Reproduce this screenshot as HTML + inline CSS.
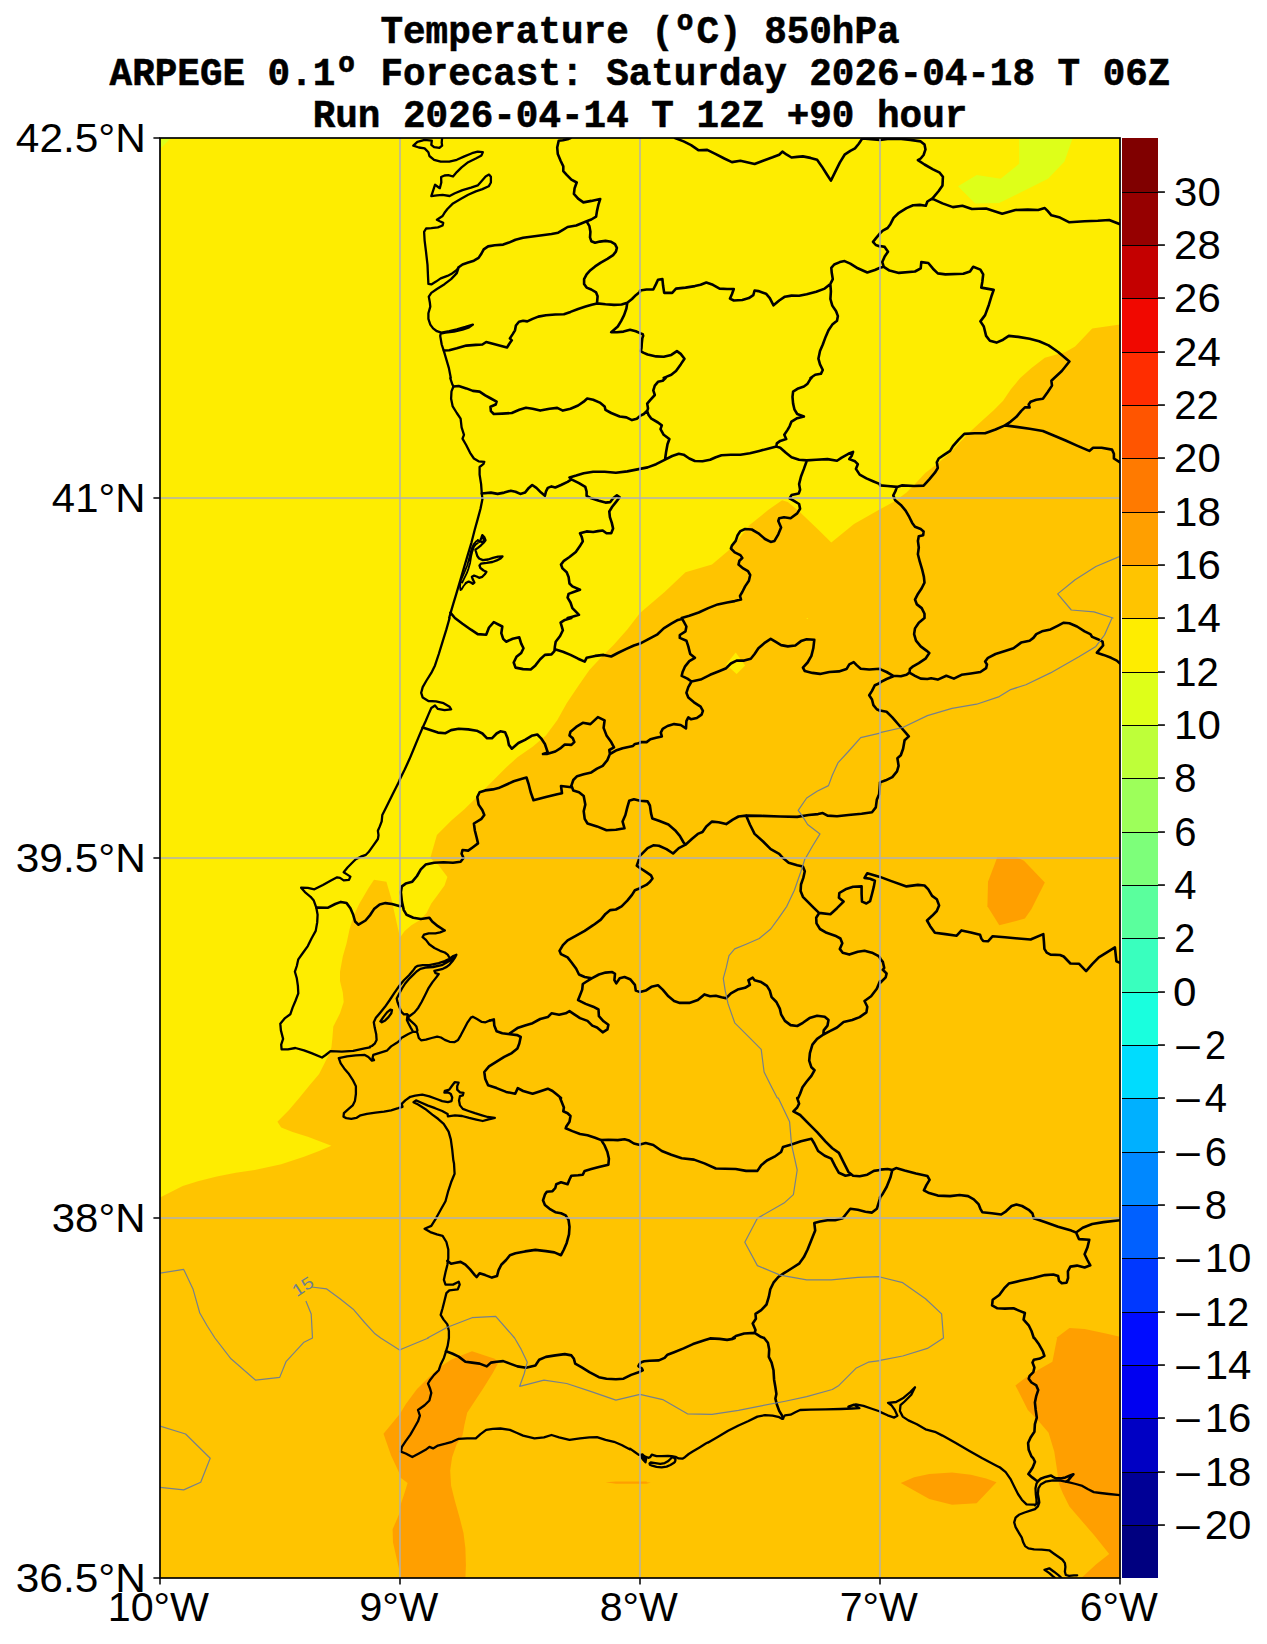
<!DOCTYPE html><html><head><meta charset="utf-8"><title>Temperature 850hPa</title><style>html,body{margin:0;padding:0;background:#fff}body{width:1267px;height:1644px;overflow:hidden;position:relative}svg{position:absolute;left:0;top:0;display:block}text{font-family:"Liberation Sans",sans-serif;fill:#000}.t{font-family:"Liberation Mono",monospace;font-weight:bold;stroke:#000;stroke-width:0.55px}</style></head><body>
<svg width="1267" height="1644" viewBox="0 0 1267 1644">
<defs><clipPath id="c"><rect x="160" y="138" width="960" height="1440"/></clipPath></defs>
<g clip-path="url(#c)">
<rect x="160" y="138" width="960" height="1440" fill="#ffc400"/>
<polygon fill="#feed00" points="160.0,138.0 1120.0,138.0 1120.0,324.6 1092.2,328.4 1075.1,346.4 1065.6,352.0 1044.8,357.7 1031.5,368.1 1020.2,378.0 1010.7,389.4 1003.1,400.7 993.7,410.2 982.3,420.6 970.9,431.0 959.6,442.4 952.0,450.9 936.8,464.2 925.5,472.7 915.0,484.1 906.5,492.6 895.2,501.1 880.0,509.3 854.0,523.9 831.3,542.4 818.1,529.5 798.2,510.6 787.8,502.1 782.1,500.2 768.8,509.6 749.9,524.8 730.9,548.5 712.0,564.6 685.5,572.2 664.6,592.0 640.0,612.9 627.3,629.4 614.0,644.5 600.8,657.8 589.4,670.1 578.1,686.2 566.7,703.2 557.2,720.3 545.9,735.4 532.6,746.8 517.4,757.2 506.1,767.6 490.9,782.8 475.8,798.0 464.4,809.3 451.1,820.7 436.9,834.9 430.3,858.0 438.8,865.6 447.4,876.9 444.5,885.5 436.9,895.9 431.3,903.5 426.5,912.9 420.8,919.6 411.4,925.2 404.7,930.9 400.0,937.6 394.9,914.8 391.1,897.8 386.4,881.7 374.0,879.8 368.4,888.3 358.9,904.4 353.2,916.7 349.4,930.0 346.6,943.2 342.8,956.5 340.0,971.7 340.0,981.1 342.8,992.5 343.7,1002.0 340.0,1013.3 333.3,1026.6 332.4,1038.0 331.4,1047.4 328.6,1055.0 323.9,1064.5 319.1,1073.9 309.6,1085.3 299.2,1098.0 288.8,1110.3 277.4,1121.7 281.2,1127.4 292.6,1132.1 307.8,1136.8 322.9,1142.5 331.4,1145.7 319.1,1151.0 304.0,1156.7 281.2,1164.3 254.7,1170.0 235.8,1172.8 216.8,1176.6 197.9,1181.3 182.7,1186.1 171.4,1191.8 160.0,1197.4"/>
<polygon fill="#feed00" points="735.7,652.5 745.1,665.4 736.6,673.9 726.2,664.4"/>
<polygon fill="#feed00" points="806.8,618.0 807.8,618.0 807.8,619.0 806.8,619.0"/>
<polygon fill="#deff19" points="1019.2,138.0 1019.2,163.7 1000.7,178.7 976.7,175.0 958.0,186.2 975.2,203.5 999.2,203.0 1024.0,190.7 1048.0,178.7 1064.5,161.5 1072.7,138.0"/>
<polygon fill="#deff19" points="160.0,138.0 171.0,138.0 160.0,149.0"/>
<polygon fill="#ff9f00" points="997.4,857.1 988.0,881.7 987.4,906.3 999.3,925.2 1024.9,918.6 1031.5,909.1 1044.8,882.6 1024.0,860.8 1016.4,857.1"/>
<polygon fill="#ff9f00" points="472.0,1351.3 462.5,1355.0 451.1,1359.8 440.7,1366.4 428.4,1377.8 417.0,1389.1 405.7,1404.3 400.0,1413.8 383.5,1433.7 391.1,1455.4 400.0,1474.4 400.0,1477.2 407.6,1482.9 403.8,1495.2 400.0,1506.6 400.0,1512.3 392.6,1529.3 393.0,1542.6 400.0,1572.9 401.0,1578.0 465.4,1578.0 465.9,1565.3 465.4,1548.3 463.5,1533.1 459.7,1518.0 454.9,1500.9 451.1,1485.8 450.2,1470.6 452.1,1457.3 456.8,1444.1 462.5,1435.6 464.4,1425.1 467.2,1412.8 473.9,1402.4 483.3,1388.2 492.8,1373.0 498.5,1362.6 494.7,1358.8 483.3,1355.0"/>
<polygon fill="#ff9f00" points="605.5,1482.3 616.0,1481.4 646.7,1481.4 646.7,1482.2 650.8,1482.5 646.7,1483.7 616.0,1483.7"/>
<polygon fill="#ff9f00" points="900.8,1482.9 914.1,1477.2 929.3,1474.0 952.0,1472.5 970.9,1474.8 986.1,1478.6 996.5,1482.3 986.1,1493.3 976.6,1503.2 952.0,1504.7 929.3,1499.0 914.1,1490.5"/>
<polygon fill="#ff9f00" points="1056.2,1338.0 1069.4,1328.1 1084.6,1329.1 1103.5,1332.9 1120.0,1336.7 1120.0,1578.0 1081.7,1578.0 1082.7,1576.7 1095.9,1564.4 1109.2,1553.9 1094.0,1535.0 1080.8,1519.8 1069.4,1506.6 1062.8,1493.3 1059.0,1483.9 1057.1,1470.6 1054.3,1451.7 1048.6,1432.7 1037.2,1419.5 1027.8,1410.0 1020.2,1394.8 1015.4,1385.4 1027.8,1375.9 1041.0,1368.3 1052.4,1361.7 1055.2,1347.5 1057.1,1338.0"/>
<g fill="none" stroke="#000" stroke-width="2.3" stroke-linejoin="round" stroke-linecap="round">
<path d="M442.1 138.0 L441.7 142.7 L442.1 145.6 L439.4 147.9 L434.1 147.1 L431.3 144.8 L431.8 140.7 L424.6 139.9 L417.4 141.8 L413.3 145.6 L418.9 147.5 L424.6 148.4 L428.4 152.2 L429.4 156.0 L434.1 159.8 L440.7 161.7 L449.3 161.7 L456.8 159.8 L464.4 156.4 L472.0 153.2 L477.7 151.6 L482.8 152.2 L481.5 155.4 L475.8 158.5 L468.2 162.2 L461.6 167.4 L456.8 172.1 L453.0 176.5 L448.3 175.1 L444.5 175.5 L441.1 177.0 L441.3 182.5 L439.8 188.2 L435.0 184.8 L431.3 196.2 L436.9 195.4 L442.6 194.8 L449.6 196.0 L454.9 193.3 L462.5 190.1 L471.0 187.6 L477.7 185.4 L481.5 181.2 L485.6 176.5 L489.0 174.6 L490.9 176.8 L490.9 182.5 L488.7 186.3 L482.4 189.1 L475.8 191.4 L468.2 194.8 L460.6 199.0 L453.0 203.4 L447.4 209.0 L444.5 212.8 L442.6 216.0 L436.9 219.8 L439.8 221.3 L443.2 222.9 L442.6 225.5 L437.9 227.4 L431.3 228.2 L426.1 228.5 L424.1 231.8 L424.6 240.3 L426.0 251.7 L427.5 264.9 L428.0 276.3 L428.4 283.9 L431.3 284.4 L436.0 281.6 L440.7 278.4 L447.4 275.9 L452.1 273.4 L456.8 270.0 L458.7 267.2 M458.3 268.7 L456.8 273.1 L451.1 279.1 L444.5 284.2 L436.9 289.0 L431.3 292.9 L428.8 296.7 L429.9 302.8 L430.3 306.6 L428.4 313.2 L428.4 318.9 L430.3 324.6 L433.1 328.4 L436.9 331.2 L441.3 332.7 L449.3 331.2 L456.8 329.3 L465.4 326.9 L472.9 324.6 L469.1 327.4 L462.5 329.7 L454.0 331.6 L445.5 332.7 L440.7 333.7 L440.2 335.9 L441.7 344.5 L443.9 351.1 L446.4 359.6 L448.9 368.1 L450.8 378.0 M450.2 378.0 L452.1 383.7 L453.4 386.5 L451.5 391.3 L451.1 398.8 L452.7 406.4 L456.8 413.0 L460.6 418.7 L461.6 427.3 L464.0 434.8 L462.5 438.6 L466.3 445.2 L470.1 452.8 L473.9 458.5 L478.6 461.3 L484.3 461.9 L483.3 464.2 L479.6 467.0 L479.6 474.6 L481.1 484.1 L481.8 493.5 L482.4 499.2 L480.5 508.7 L477.7 519.1 L474.8 529.5 L471.4 542.8 L467.4 556.1 L463.5 569.3 L459.9 581.6 L456.3 593.9 L453.4 603.4 L450.6 612.9 L449.1 618.0 M449.6 618.0 L446.4 629.4 L442.6 641.7 L438.8 654.0 L435.0 665.4 L431.3 672.9 L426.5 680.5 L422.7 687.1 L421.2 692.8 L422.7 697.6 L428.4 701.0 L436.0 701.3 L443.6 703.2 L449.6 706.7 L451.1 709.3 L444.5 710.2 L437.9 708.9 L435.0 705.5 L431.3 708.0 L428.4 714.6 L425.6 721.2 L422.7 727.5 L418.9 736.4 L414.2 747.8 L409.5 759.1 L404.7 769.5 L400.0 779.0 L399.3 780.9 M355.8 859.2 L353.2 861.8 L347.5 867.5 L343.7 872.2 L346.6 874.1 L350.4 876.6 L349.0 879.8 L343.7 880.4 L340.0 877.9 L337.1 877.3 L330.5 880.7 L322.9 884.9 L314.4 889.3 L307.8 887.9 L301.1 887.7 L304.9 892.1 L310.6 896.8 L313.8 900.6 L316.3 907.6 L317.6 914.8 L317.2 922.4 L315.7 930.9 L311.5 938.5 L307.8 946.1 L303.0 952.7 L298.3 959.3 L296.8 966.0 L294.9 971.7 L296.8 978.3 L297.9 985.9 L298.3 993.4 L295.4 1001.0 L292.6 1007.6 L290.3 1014.3 L285.0 1018.1 L280.3 1023.7 L280.9 1030.4 L283.1 1038.9 L281.2 1044.6 L281.6 1049.3 L287.9 1049.3 L295.4 1048.0 L304.0 1050.3 L311.5 1053.1 L322.0 1057.5 L325.7 1055.0 L330.5 1051.2 L341.8 1051.6 L353.2 1050.8 L364.6 1048.4 L369.9 1047.4 M453.3 1160.0 L454.0 1163.4 L454.6 1173.8 L451.1 1182.3 L448.3 1190.8 L445.5 1201.2 L440.7 1209.8 L436.0 1218.3 L431.3 1225.9 L424.6 1228.7 L430.3 1232.1 L436.9 1234.4 L442.6 1235.9 L446.4 1242.0 L448.3 1249.5 L448.3 1258.1 L447.4 1264.7 L445.5 1272.3 L443.9 1279.8 L445.5 1284.6 L453.0 1284.6 L458.7 1281.7 L459.7 1284.6 L457.8 1289.3 L449.3 1290.3 L446.4 1293.1 L444.5 1300.7 L442.6 1308.3 L440.7 1314.9 L443.6 1319.6 L447.4 1324.4 L448.9 1331.0 L448.9 1338.0 M448.9 1338.0 L447.7 1345.6 L446.0 1351.3 L443.9 1357.9 L440.7 1364.5 L438.8 1370.2 L434.1 1374.9 L430.3 1379.7 L428.0 1383.5 L429.9 1388.2 L431.3 1392.9 L429.4 1400.5 L424.6 1405.2 L418.0 1410.0 L419.9 1415.7 L418.0 1421.3 L414.2 1428.0 L410.4 1434.6 L405.7 1441.2 L401.9 1446.9 L400.9 1451.7 L405.7 1453.5 L412.3 1457.0 L418.9 1453.5 L425.6 1449.8 L429.4 1446.9 L433.1 1448.4 L437.9 1445.6 L445.5 1443.7 L452.1 1441.8 L458.7 1438.8 L467.2 1438.4 L475.8 1438.4 L480.5 1434.2 L486.2 1429.9 L492.8 1428.9 L500.4 1428.5 L509.9 1429.9 L516.5 1432.7 L523.1 1435.6 L534.5 1438.4 L544.0 1437.4 L551.5 1435.0 L559.1 1437.4 L569.5 1439.9 L580.0 1438.4 L589.4 1437.4 L597.0 1437.1 L605.5 1439.9 L614.0 1441.8 L621.6 1445.0 L630.1 1449.4 M708.2 1442.6 L717.7 1437.1 L728.1 1430.8 L738.5 1425.5 L748.0 1421.3 L757.4 1416.6 L765.0 1415.1 L772.6 1415.7 L779.2 1417.2 L782.4 1418.9 L784.9 1415.3 L790.6 1414.7 L795.3 1412.3 L800.1 1410.0 L810.5 1409.6 L825.6 1409.4 L840.8 1409.0 L852.2 1408.5 L859.4 1408.1 L854.0 1404.7 L848.4 1406.6 L855.9 1404.3 L863.5 1405.8 L871.1 1408.5 L880.0 1411.5 M880.0 1411.9 L887.6 1415.3 L894.2 1417.6 L897.4 1415.7 L894.8 1410.0 L891.4 1405.2 L888.0 1402.8 L896.1 1402.0 L903.7 1397.7 L910.3 1392.0 L915.0 1387.3 L911.3 1394.8 L904.6 1401.5 L900.5 1405.2 L899.9 1410.9 L902.7 1416.6 L908.4 1420.4 L916.9 1424.2 L925.5 1429.3 L934.9 1431.8 L942.5 1435.6 L955.8 1443.1 L969.0 1450.7 L982.3 1458.3 L995.5 1465.3 L999.9 1467.6 M444.8 930.5 L440.1 932.4 L435.4 933.3 L428.7 933.3 L424.0 934.7 L422.6 937.1 L425.9 939.9 L429.2 944.2 L434.4 948.0 L440.1 950.8 L444.8 952.5 L447.7 954.6 L449.1 957.0 L450.0 958.4 M450.0 958.4 L453.3 956.0 L456.4 954.8 L454.8 957.9 L452.4 961.3 L449.6 964.6 L446.7 966.9 L442.9 968.8 L438.7 969.8 L434.4 970.9 L435.4 973.1 L438.7 974.0 L436.3 977.4 L432.5 982.1 L428.7 987.8 L424.9 995.4 L421.6 1002.0 L418.3 1007.7 L414.5 1012.4 L410.7 1015.2 L409.3 1016.2 M450.0 958.4 L444.8 961.1 L438.7 963.2 L429.2 965.1 L422.8 965.1 L417.8 965.8 L415.3 967.3 L412.8 970.8 L409.0 975.3 L403.9 980.3 L399.6 985.4 L394.4 992.9 L389.4 1000.5 L385.0 1006.8 L380.4 1012.4 L375.7 1018.1 L373.8 1022.3 L374.7 1027.6 L376.2 1034.2 L376.6 1039.9 L374.7 1043.7 L371.9 1046.0 L370.0 1046.7 M454.8 956.5 L450.5 960.3 L445.8 963.1 L441.8 965.2 L433.0 967.0 L425.4 967.7 L420.4 968.9 L416.6 971.5 L413.4 974.6 L409.0 979.0 L405.2 983.5 L402.0 988.5 L398.9 994.2 L396.7 998.6 L397.6 1002.4 L399.5 1007.4 L401.4 1011.9 L403.9 1014.4 L407.1 1014.1 L408.7 1015.7 L408.4 1018.6 L410.7 1020.9 L414.0 1023.8 L416.4 1026.6 L417.4 1030.4 L416.9 1031.8 M407.4 1016.2 L406.9 1020.0 L408.4 1023.3 L410.7 1027.6 L413.1 1031.8 M413.1 1031.8 L407.9 1034.2 L401.3 1038.0 M413.1 1031.8 L416.9 1031.8 L417.8 1034.2 L418.8 1038.0 L421.1 1040.3 L425.9 1039.7 L431.6 1038.0 L437.2 1036.6 L441.0 1037.5 L444.8 1039.9 L449.6 1041.8 L454.3 1042.2 L458.1 1039.9 L460.9 1035.1 L463.8 1029.4 L467.6 1022.3 L470.9 1017.6 L472.8 1016.7 L477.0 1019.0 L481.8 1021.9 L485.5 1022.3 L490.0 1020.4 M380.4 1021.4 L383.3 1017.1 L387.0 1012.4 L390.4 1009.6 L392.0 1010.0 L391.3 1013.3 L388.5 1017.1 L385.2 1020.4 L381.8 1022.3 L380.4 1021.4 M401.3 1038.0 L399.6 1040.7 L396.8 1042.8 L391.1 1046.4 L386.8 1050.7 L379.7 1052.8 L373.3 1054.9 L372.6 1057.8 L374.0 1060.2 L371.9 1060.6 L368.4 1057.0 L364.8 1054.9 L355.6 1055.3 L347.0 1056.3 L338.8 1058.2 L340.7 1063.4 L344.2 1068.4 L348.5 1073.4 L352.7 1079.8 L355.9 1086.2 L355.9 1094.0 L354.9 1101.1 L352.7 1105.4 L347.8 1109.6 L343.9 1113.2 L343.5 1116.7 L346.3 1118.1 L351.3 1118.8 L356.3 1117.9 L360.5 1115.3 L366.9 1113.9 L375.5 1112.7 L384.0 1111.7 L391.1 1110.3 L398.2 1108.2 L402.5 1106.8 L401.7 1103.9 L405.3 1100.4 L410.3 1096.8 L415.2 1095.7 L422.3 1094.7 L429.4 1096.4 L436.6 1099.0 L442.2 1101.1 L447.9 1102.2 L451.5 1101.1 L452.2 1097.5 L450.8 1094.0 L447.9 1092.3 L444.4 1092.6 L444.8 1090.9 L449.3 1089.7 L452.2 1085.5 L454.7 1082.2 L458.6 1082.6 L457.2 1086.2 L457.2 1089.7 L460.0 1092.3 L463.5 1092.8 L462.8 1095.4 L460.0 1096.1 L459.0 1100.4 L460.0 1105.4 L462.8 1108.9 L468.5 1111.0 L474.9 1113.2 L482.0 1115.3 L487.7 1117.0 L494.8 1117.9 L487.7 1119.6 L482.7 1121.0 L476.3 1119.6 L469.2 1117.9 L462.1 1116.0 L455.0 1115.3 L447.9 1116.4 L447.6 1113.9 L442.2 1111.0 L435.1 1108.2 L428.0 1105.6 L420.9 1102.5 L416.0 1100.4 L413.5 1102.2 L418.1 1104.6 L425.2 1108.9 L432.3 1114.6 L438.0 1118.8 L443.7 1123.8 L448.6 1131.6 L450.8 1139.4 L452.2 1149.4 L453.3 1160.0 M399.3 780.9 L392.4 794.8 L386.1 807.5 L382.3 815.0 L381.7 821.3 L379.8 826.4 L377.9 830.8 L378.5 835.2 L377.9 839.0 L373.4 845.3 L368.4 852.3 L365.9 854.8 L360.8 856.7 L355.8 859.2 M477.9 540.3 L479.5 541.8 L480.4 540.2 L481.4 537.7 L482.3 535.2 L484.2 537.0 L485.5 540.2 L483.6 542.7 L481.0 545.3 L477.9 547.8 L475.4 549.7 L476.3 552.8 L477.3 556.0 L479.1 558.5 L482.9 560.1 L488.0 559.5 L493.0 557.9 L498.1 556.6 L502.5 556.5 L500.6 558.5 L496.8 560.4 L492.4 562.0 L486.7 562.9 L481.0 563.6 L479.5 565.5 L480.4 568.0 L483.6 570.5 L486.4 571.8 L484.8 574.3 L482.3 576.8 L479.1 577.8 L476.6 576.5 L474.1 575.6 L471.9 576.8 L472.8 579.4 L474.4 582.5 L472.8 583.8 L470.9 582.5 L468.7 581.6 L465.9 583.1 M482.0 536.4 L483.6 538.9 L484.2 540.8 L482.3 542.1 L480.4 541.5 M1120.0 1495.1 L1108.9 1494.0 L1100.4 1493.0 L1093.8 1492.1 L1088.1 1489.3 L1082.4 1485.9 L1075.8 1484.0 L1068.2 1482.2 L1060.6 1480.7 L1053.0 1480.3 L1045.5 1481.7 L1040.7 1484.5 L1038.4 1488.3 L1037.9 1494.0 L1038.8 1498.7 L1039.3 1502.5 L1037.9 1506.3 L1035.0 1509.1 L1030.3 1510.6 L1024.6 1512.5 L1018.9 1514.8 L1015.6 1517.7 L1014.2 1522.4 L1015.6 1527.1 L1018.9 1532.8 L1021.8 1537.6 L1023.2 1542.3 L1025.1 1546.1 L1028.4 1548.4 L1034.1 1549.4 L1041.7 1549.7 L1049.3 1550.3 L1054.0 1553.7 L1058.7 1557.0 L1062.5 1559.8 L1064.9 1563.1 L1065.4 1566.9 L1064.9 1571.7 L1065.8 1575.0 L1069.1 1575.9 L1073.9 1575.3 L1077.2 1575.3 M1037.9 1481.2 L1036.5 1483.6 L1035.5 1488.3 L1035.8 1494.0 L1036.5 1499.7 L1036.5 1503.5 L1035.0 1505.4 M1000.0 1467.5 L1005.7 1472.2 L1010.4 1478.8 L1014.2 1486.4 L1018.0 1494.0 L1021.8 1499.7 L1026.5 1504.4 L1032.2 1504.6 L1036.0 1504.4 L1037.4 1502.5 M1061.6 1578.0 L1058.7 1575.4 L1054.0 1571.7 L1049.3 1568.3 L1044.5 1569.8 L1049.3 1573.1 L1053.0 1576.4 L1054.9 1578.0 M630.0 1448.6 L634.4 1451.8 L638.8 1454.9 L641.7 1454.6 L645.2 1456.5 L648.3 1457.8 L650.2 1457.2 L651.8 1454.6 L654.0 1455.3 L656.5 1456.2 L661.6 1456.2 L667.9 1456.0 L671.7 1456.2 L675.5 1456.8 L678.6 1458.4 L682.4 1458.7 L684.9 1457.2 L688.7 1454.0 L693.1 1451.2 L699.5 1447.4 L705.8 1443.6 L708.3 1442.3 M649.6 1463.5 L650.8 1462.5 L655.3 1463.1 L660.3 1463.8 L664.7 1463.1 L667.9 1461.3 L670.4 1459.0 L672.3 1457.2 L674.2 1457.8 L675.5 1459.7 L675.1 1461.6 L673.6 1463.1 L670.4 1465.0 L666.6 1466.6 L661.6 1467.3 L656.5 1466.9 L652.1 1465.7 L649.9 1464.7 L649.6 1463.5 M641.0 1454.8 L642.6 1454.5 L644.8 1457.2 L646.1 1458.7 L645.5 1462.3 L643.6 1460.3 L642.0 1458.1 L641.0 1454.8 L644.2 1458.4 L645.2 1460.9"/>
</g>
<g fill="none" stroke="#000" stroke-width="1.8" stroke-linejoin="round" stroke-linecap="round">
<path d="M460.5 590.1 L460.0 586.3 L460.7 580.6 L462.4 576.8 L464.6 571.8 L467.2 565.5 L469.0 559.1 L470.5 552.8 L472.0 547.8 L473.8 544.0 L475.9 541.6 L477.9 540.3 M465.9 583.1 L463.4 586.3 L461.5 589.5 L460.5 590.1 M462.2 582.5 L464.1 578.7 L466.6 573.7 L468.5 568.6 L470.1 562.9 L471.1 556.6 L472.3 551.6 L474.0 546.8 L475.7 544.6 L477.9 543.0"/>
</g>
<g fill="none" stroke="#000" stroke-width="2.6" stroke-linejoin="round" stroke-linecap="round">
<path d="M458.7 267.2 L462.5 264.5 L468.2 262.6 L473.9 260.7 L478.6 257.9 L481.5 253.5 L483.7 249.4 L488.1 246.4 L494.7 245.2 L503.2 244.6 L508.9 242.6 L515.5 239.7 L523.1 237.8 L532.6 236.5 L542.1 235.2 L551.5 234.0 L558.2 232.7 L562.9 229.9 L567.6 227.0 L576.2 225.5 L581.8 223.2 L586.6 221.3 L591.3 219.5 L596.1 216.6 L597.0 210.9 L598.5 204.3 L600.2 199.0 M600.2 199.0 L591.3 200.9 L583.4 202.4 L578.1 198.6 L573.9 193.9 L574.6 188.2 L576.7 182.5 L571.4 179.7 L566.7 174.9 L563.3 171.1 L563.3 166.4 L560.6 160.7 L557.8 154.1 L557.2 147.5 L558.7 140.8 L562.9 140.3 L568.6 138.9 L570.5 138.0 M443.9 350.5 L449.3 350.2 L456.8 348.3 L466.3 345.6 L475.8 344.9 L482.4 344.5 L486.2 342.0 L491.9 343.5 L499.4 345.4 L507.0 347.5 L509.5 343.5 L511.8 340.3 L509.9 338.4 L512.7 334.1 L515.0 330.3 L515.9 325.5 L519.0 321.7 L523.1 320.8 L527.3 321.4 L532.6 318.9 L538.3 316.6 L545.9 315.3 L555.3 314.5 L563.9 314.2 L570.5 311.9 L578.1 309.0 L585.6 306.6 L591.7 304.7 L597.0 303.4 L605.5 304.3 L614.0 304.9 L621.6 304.5 L627.3 302.8 L632.0 299.0 L635.8 295.2 L640.0 291.8 M597.0 303.4 L597.6 296.2 L596.1 292.4 L591.3 289.5 L586.6 287.6 L584.1 283.9 L584.1 279.1 L586.6 274.4 L590.4 270.2 L595.1 266.4 L600.8 262.6 L607.4 258.9 L613.1 255.1 L615.9 251.7 L616.9 247.9 L615.0 244.1 L611.2 241.8 L605.5 240.9 L599.8 241.6 L595.1 242.8 L591.3 241.2 L590.0 237.4 L590.4 231.8 L589.4 226.1 L586.6 221.3 M627.3 302.8 L626.4 308.5 L624.1 315.1 L621.2 320.8 L617.8 326.5 L611.2 332.2 L616.9 332.2 L623.5 331.6 L630.1 329.7 L635.8 331.2 L640.0 333.1 M675.0 138.0 L683.6 141.4 L691.1 145.2 L698.7 150.3 L707.2 149.9 L715.8 154.1 L724.3 158.5 L731.9 162.1 L740.4 160.7 L747.0 162.2 L754.6 164.0 L763.1 160.7 L772.6 157.3 L779.2 154.7 L782.4 151.6 L786.8 154.7 L791.5 157.5 L797.2 156.9 L802.9 156.4 L810.5 157.9 L817.1 159.8 L821.8 166.4 L826.6 174.0 L830.9 180.6 L835.1 172.1 L839.8 162.6 L844.6 154.7 L850.3 150.9 L855.0 148.4 L858.8 143.7 L862.6 138.0 M640.0 290.5 L646.6 289.5 L653.3 289.5 L656.1 283.9 L658.0 279.7 L662.4 279.1 L663.1 285.8 L664.2 292.9 L672.2 292.9 L676.0 288.6 L685.5 287.6 L694.9 286.1 L700.6 284.8 L706.3 282.5 L712.9 284.8 L719.6 288.6 L727.1 289.0 L733.8 289.0 L731.9 294.3 L730.0 298.6 L733.8 300.5 L742.3 300.0 L748.9 298.1 L753.3 295.2 L754.6 290.5 L758.4 291.1 L766.0 293.7 L769.8 298.1 L773.5 305.3 L779.2 300.5 L784.9 296.7 L791.5 295.6 L799.1 295.8 L806.7 294.3 L816.2 291.8 L824.7 288.6 L830.4 283.9 L832.8 279.1 L831.7 272.5 L831.3 267.8 L834.2 264.5 L839.8 262.1 L844.6 261.1 L850.3 263.6 L857.8 268.3 L867.3 272.5 L874.9 270.0 L880.0 267.8 M830.4 284.8 L830.9 291.4 L830.4 299.0 L832.3 305.6 L836.1 311.3 L837.9 316.1 L837.0 320.8 L832.3 324.6 L828.5 330.3 L825.6 336.9 L822.8 344.5 L820.0 351.1 L818.4 358.7 L820.0 364.4 L822.8 370.0 L820.9 373.8 L815.2 374.8 L810.5 378.0 M880.0 233.3 L875.8 238.4 L873.0 241.8 L875.8 245.0 L880.0 246.4 M862.6 138.4 L871.1 139.1 L880.0 139.9 M640.0 333.1 L642.7 334.2 L643.2 335.8 L642.3 338.4 L641.8 343.1 L641.5 347.9 L640.9 351.1 L643.2 352.6 L647.6 354.5 L656.1 356.4 L663.7 356.8 L671.3 354.9 L676.9 351.1 L680.7 353.9 L684.5 358.7 L680.7 364.4 L676.0 371.0 L671.3 374.8 L665.6 377.1 L663.7 378.0 M880.0 139.9 L887.6 138.9 L898.9 138.6 L910.3 139.9 L920.7 141.4 L924.5 144.6 L925.5 149.4 L923.6 155.0 L920.7 158.5 L917.9 160.2 L924.5 164.5 L933.0 169.3 L939.7 172.7 L942.9 176.8 L942.5 185.4 L938.7 191.0 L934.0 196.7 L932.1 198.6 M932.1 198.6 L927.4 201.5 L925.8 205.8 L919.8 204.9 L913.1 205.2 L906.5 208.1 L898.9 212.8 L893.6 217.9 L890.4 224.2 L887.6 228.0 L882.8 230.6 L880.0 233.3 M932.1 198.6 L942.5 203.4 L952.9 207.1 L962.4 205.8 L971.9 209.0 L986.1 208.5 L993.7 210.9 L1002.2 213.8 L1015.4 210.0 L1027.8 209.6 L1038.2 210.0 L1044.8 208.1 L1047.6 210.9 L1051.4 215.3 L1060.0 217.6 L1069.4 222.3 L1084.6 221.3 L1097.8 220.8 L1109.2 220.0 L1120.0 224.2 M880.0 246.0 L884.7 246.9 L888.0 251.7 L884.7 256.4 L882.3 262.1 L883.8 266.8 L889.5 270.6 L898.9 272.9 L915.0 271.5 L920.7 268.3 L921.3 262.1 L928.3 263.0 L933.0 268.7 L937.8 273.4 L945.4 274.4 L963.3 273.8 L970.0 271.5 L973.2 266.8 L980.4 269.6 L983.2 274.4 L982.3 282.0 L981.3 287.6 L993.7 289.9 L991.8 295.2 L988.9 304.7 L985.1 315.1 L980.4 321.4 L983.8 326.5 L986.1 335.9 L989.9 340.7 L996.5 342.6 L1003.1 339.7 L1008.8 335.9 L1018.3 336.9 L1029.6 338.8 L1039.1 341.3 L1048.6 345.4 L1058.1 352.0 L1069.4 361.5 L1061.8 371.0 L1054.3 378.0 M880.0 267.8 L883.8 266.8 M453.4 386.5 L458.7 386.0 L466.3 388.4 L472.9 390.9 L479.6 391.6 L485.2 395.4 L490.9 398.5 L496.6 401.7 L495.7 404.5 L490.5 406.8 L490.9 411.1 L493.8 414.0 L502.3 413.6 L511.8 413.0 L519.3 409.8 L526.0 407.7 L532.6 408.7 L540.2 410.6 L549.6 408.7 L557.2 407.9 L562.9 410.6 L570.5 408.7 L578.1 405.5 L583.7 401.7 L587.2 398.5 L593.2 399.8 L599.8 402.6 L604.6 406.4 L605.5 409.8 L611.2 413.0 L619.7 416.5 L626.4 417.4 L632.0 420.1 L636.8 418.7 L640.0 415.9 M481.8 493.5 L490.9 492.6 L497.6 493.9 L504.2 492.6 L510.8 490.7 L515.5 491.7 L520.3 493.9 L525.0 492.6 L528.8 487.9 L532.2 485.0 L536.4 487.9 L541.1 492.6 L544.9 495.8 L545.9 491.7 L547.8 487.9 L551.5 486.4 L555.3 487.5 L561.0 485.0 L567.6 481.8 L571.4 479.3 L569.5 477.4 L576.2 475.6 L583.7 473.3 L593.2 471.8 L604.6 471.8 L615.9 472.7 L627.3 471.4 L640.0 468.9 M571.4 479.3 L579.0 483.1 L585.3 486.9 L586.6 491.7 L586.6 495.8 L591.3 498.3 L598.9 500.7 L605.5 502.6 L610.3 502.1 L613.1 498.3 L616.9 495.4 L619.7 497.3 L615.9 502.1 L612.2 506.8 L609.3 511.5 L609.9 517.2 L611.8 522.9 L613.1 528.6 L611.2 533.3 L606.5 533.3 L602.7 530.5 L597.9 531.1 L593.2 532.0 L586.6 531.4 L580.0 533.3 L581.8 537.1 L582.8 541.3 L579.6 546.6 L575.8 551.9 L569.5 557.0 L563.9 560.8 L561.0 564.6 L562.5 568.4 L566.7 572.2 L568.6 576.9 L569.5 583.5 L572.4 586.4 L580.0 589.8 L574.3 591.7 L568.6 593.9 L567.6 597.7 L570.5 602.5 L572.4 608.1 L577.1 612.9 L579.0 614.8 L572.4 616.7 L567.6 618.0 M665.6 378.0 L662.7 380.8 L658.0 381.8 L654.8 385.6 L653.3 390.3 L654.8 395.0 L650.4 399.8 L647.2 403.6 L648.0 408.3 L647.2 411.1 L648.5 414.9 L651.4 418.7 L658.0 422.5 L661.8 425.4 L660.5 429.1 L663.7 434.8 L669.4 439.0 L667.5 444.3 L666.1 451.9 L665.0 459.8 M640.0 415.9 L643.8 414.0 L647.2 410.6 M640.0 468.9 L647.6 467.4 L656.1 464.2 L664.6 459.8 L672.2 456.0 L678.8 453.8 L683.6 454.7 L689.3 458.5 L694.9 461.0 L702.5 461.3 L710.1 459.8 L715.8 457.2 L721.5 455.3 L730.9 454.7 L740.4 454.7 L749.9 453.2 L759.3 450.9 L768.8 448.5 L776.4 446.6 L780.2 447.7 L785.9 452.8 L791.5 457.2 L799.1 459.8 L806.7 460.4 L816.2 459.8 L827.5 459.1 L837.0 460.8 L841.7 457.6 L848.4 453.8 L853.1 451.9 L851.8 455.7 L849.3 459.1 L855.0 461.3 L857.8 464.2 L855.9 468.9 L859.7 474.6 L866.4 478.4 L873.0 481.2 L880.0 484.1 M776.4 446.6 L776.8 443.4 L780.2 440.9 L786.2 439.0 L784.3 434.8 L787.4 430.1 L789.6 426.3 L791.5 421.6 L797.2 418.2 L803.9 416.5 L797.2 414.0 L794.4 409.3 L793.1 403.6 L792.5 396.9 L793.1 391.6 L798.2 388.4 L803.9 386.5 L807.6 383.7 L810.5 378.9 L811.4 378.0 M806.7 461.0 L803.9 468.9 L801.0 476.5 L799.1 484.1 L800.1 489.8 L798.7 493.5 L791.5 495.1 L789.6 498.3 L794.4 501.1 L799.1 504.0 L800.1 508.7 L797.2 513.4 L790.6 518.2 L784.0 517.2 L779.2 518.2 L778.3 521.0 L781.1 527.6 L778.3 534.3 L774.5 540.9 L770.7 541.9 L765.0 539.0 L758.4 533.3 L751.8 529.5 L745.1 529.0 L740.4 531.1 L737.6 535.2 L735.7 540.9 L731.9 545.6 L730.9 548.5 L734.7 552.3 L740.4 555.1 L742.3 558.0 L739.4 560.8 L738.5 564.6 L743.2 568.4 L748.0 571.2 L750.2 575.0 L748.9 580.7 L745.1 586.4 L742.3 592.0 L740.0 595.8 L741.0 599.6 L734.7 601.1 L727.1 602.5 L717.7 604.4 L708.2 608.1 L698.7 612.5 L689.3 615.7 L681.7 618.0 M1054.3 378.0 L1051.4 380.8 L1052.0 385.6 L1047.6 392.2 L1042.9 398.8 L1036.3 399.8 L1030.6 401.7 L1028.7 404.5 L1029.6 407.4 L1024.9 407.4 L1021.1 411.1 L1016.4 416.8 L1010.7 421.6 L1005.0 425.4 L995.5 429.5 L985.1 433.3 L974.7 433.3 L964.3 433.9 L958.6 439.6 L952.9 446.2 L950.1 450.9 L944.4 454.7 L938.7 458.5 L936.8 462.3 L937.8 468.0 L934.9 472.7 L929.3 479.3 L923.6 485.6 L914.1 486.0 L901.8 485.4 L897.0 486.9 L887.6 486.0 L880.0 485.4 M1005.0 425.4 L1016.4 426.9 L1029.6 428.8 L1042.9 431.0 L1054.3 435.8 L1065.6 440.5 L1077.0 445.6 L1089.3 450.9 L1093.1 447.7 L1101.6 447.7 L1112.0 449.6 L1113.9 453.8 L1113.9 458.5 L1120.0 462.3 M897.0 486.9 L895.2 491.7 L893.3 495.4 L895.2 500.2 L900.8 504.9 L905.6 510.6 L909.4 517.2 L912.2 522.9 L915.0 526.7 L920.7 529.0 L923.6 531.4 L923.2 535.2 L918.8 536.2 L917.9 540.9 L918.8 547.5 L917.9 554.2 L919.8 561.7 L922.1 569.3 L923.9 576.9 L924.5 582.6 L921.7 588.3 L917.9 593.9 L915.0 599.6 L916.9 604.4 L921.7 608.1 L924.5 613.8 L924.5 618.0 M450.4 612.7 L454.9 618.0 L462.5 623.7 L471.0 629.7 L477.7 634.1 L486.2 634.7 L489.0 627.5 L493.8 622.2 L502.3 626.5 L501.3 633.2 L503.2 638.8 L506.1 641.7 L512.7 638.8 L519.3 637.3 L521.2 643.6 L523.5 648.3 L521.2 653.0 L516.5 656.8 L513.7 662.5 L515.5 667.6 L523.1 669.1 L530.7 669.5 L535.4 665.4 L540.2 659.3 L544.9 654.9 L551.5 654.4 L554.4 651.1 L554.9 646.4 L555.7 641.7 L560.1 636.0 L562.9 630.3 L560.6 622.7 L564.8 619.9 L571.4 618.0 M554.9 649.3 L562.9 651.7 L570.5 654.9 L578.1 658.7 L584.7 661.6 L586.6 657.8 L595.1 655.9 L603.6 654.9 L611.2 656.5 L617.8 653.0 L626.4 648.9 L633.9 645.5 L640.0 643.6 M422.7 727.5 L430.3 730.1 L437.9 732.6 L445.5 733.2 L451.1 730.1 L458.7 728.8 L468.2 729.4 L476.7 730.7 L482.4 733.5 L487.1 738.3 L491.9 738.3 L496.6 733.5 L500.4 731.3 L505.1 732.2 L507.6 738.3 L508.9 744.9 L511.8 748.7 L518.4 743.0 L525.0 739.8 L531.6 735.8 L537.3 734.5 L541.1 738.3 L544.9 744.0 L547.8 752.5 L543.0 754.0 L546.8 754.0 L555.3 751.5 L561.0 747.8 L564.8 744.5 L571.4 744.9 L574.3 742.1 L572.8 738.3 L569.5 735.4 L570.5 731.7 L576.2 726.9 L582.8 722.8 L590.4 724.1 L597.9 717.1 L604.6 720.3 L603.6 727.9 L606.5 735.4 L611.2 742.1 L614.0 747.4 L609.3 750.0 L609.9 754.0 M609.9 754.0 L615.9 750.6 L622.6 748.3 L633.0 745.9 L634.9 744.0 L640.0 743.0 M609.9 754.0 L607.4 760.1 L602.7 765.8 L597.0 768.6 L591.3 772.4 L583.7 774.3 L577.1 776.2 L573.3 780.0 L571.4 785.6 L573.3 790.4 L579.0 792.3 L583.7 796.1 L585.3 804.6 L583.7 811.2 L584.7 818.8 L587.5 823.5 L597.0 826.4 L606.5 830.2 L615.9 829.8 L624.5 828.3 L622.6 821.6 L625.4 815.0 L627.3 807.4 L629.2 800.8 L633.9 799.3 L640.0 800.8 M571.4 787.2 L561.0 786.0 L562.0 793.2 L557.2 794.2 L545.9 797.0 L533.5 800.2 L530.7 792.3 L528.8 784.7 L526.5 777.5 L521.2 779.0 L513.7 781.3 L506.1 784.7 L498.5 788.1 L492.8 789.4 L485.2 790.4 L479.6 792.3 L477.3 797.0 L478.6 804.6 L482.4 810.3 L484.3 815.0 L481.5 818.8 L473.9 823.5 L474.8 830.2 L476.7 837.7 L478.0 843.4 L472.9 847.2 L468.2 850.6 L462.5 850.0 L461.6 853.8 L463.5 858.0 M640.0 643.6 L648.5 639.2 L657.0 634.7 L663.7 628.4 L671.3 623.7 L677.9 619.9 L681.7 618.9 M681.7 618.0 L683.9 621.8 L686.4 626.5 L685.5 631.3 L679.8 635.0 L679.8 637.9 L686.4 640.7 L688.3 646.4 L690.2 654.0 L694.9 657.8 L689.3 661.2 L685.1 666.3 L682.6 672.0 L681.7 675.8 L687.4 678.6 L691.5 681.5 M691.5 681.5 L700.6 679.6 L710.1 674.8 L719.6 671.0 L726.2 668.2 L730.9 663.5 L736.6 660.6 L744.2 660.6 L750.8 658.7 L754.6 654.0 L758.4 648.3 L765.0 642.6 L770.7 638.8 L775.4 641.7 L781.1 645.1 L787.8 646.4 L795.3 645.5 L801.0 641.1 L806.7 639.2 L814.3 639.8 L813.3 648.3 L811.4 655.9 L807.6 662.5 L802.9 667.6 L804.8 671.0 L812.4 672.9 L820.0 673.9 L829.4 672.0 L838.9 671.4 L846.5 669.1 L849.3 664.4 L853.7 662.1 L856.9 665.4 L860.7 668.8 L869.2 669.5 L880.0 668.8 M691.5 681.5 L688.3 687.1 L686.4 692.8 L688.3 697.6 L694.0 702.3 L700.6 706.7 L702.9 710.8 L701.6 714.6 L696.8 718.0 L691.1 719.3 L688.3 717.4 L686.4 721.2 L686.0 728.4 L680.7 725.0 L674.1 724.1 L667.5 726.0 L662.7 728.8 L660.8 732.6 L661.8 736.4 L656.1 737.7 L650.4 739.2 L646.6 742.1 L640.0 742.1 M880.0 683.0 L874.9 685.2 L872.0 690.9 L869.2 695.3 L872.0 699.5 L873.4 705.1 L876.8 709.3 L880.0 710.8 M640.0 800.8 L647.6 801.4 L649.9 805.5 L651.0 813.1 L652.3 818.4 L658.9 820.7 L668.4 824.5 L675.0 830.2 L679.8 835.8 L683.6 842.5 L685.5 844.7 M685.5 844.7 L678.8 848.1 L673.1 853.5 L666.5 849.1 L658.9 845.7 L653.3 845.3 L647.6 848.1 L641.9 853.8 L640.0 855.7 M685.5 844.7 L692.1 838.7 L697.8 833.9 L702.5 832.0 L706.3 826.4 L712.0 821.6 L718.6 822.2 L726.2 824.1 L732.8 819.7 L738.5 816.5 L746.1 815.6 L761.2 815.9 L780.2 816.5 L797.2 816.9 L808.6 815.0 L818.1 814.1 L822.8 813.1 L827.5 815.6 L837.0 816.3 L848.4 815.0 L861.6 813.7 L872.0 812.2 L875.8 807.4 L876.8 799.8 L879.1 794.2 L879.6 788.5 L880.0 782.8 M746.1 815.6 L749.9 824.5 L754.6 833.9 L763.1 841.5 L770.7 849.1 L779.2 853.8 L783.0 858.0 M924.5 618.0 L918.8 622.7 L915.0 628.4 L914.1 634.1 L916.0 640.7 L920.7 646.4 L926.4 650.6 L929.3 653.0 L925.5 658.7 L918.8 663.1 L913.1 666.3 L909.9 669.1 L909.4 672.9 M880.0 669.1 L886.6 672.0 L893.3 675.8 L900.8 676.3 L906.5 674.8 L909.4 672.6 L915.0 675.8 L920.7 678.6 L927.4 679.0 L931.1 678.2 L937.8 679.6 L946.3 675.8 L953.9 678.6 L961.5 674.8 L970.9 673.5 L980.4 672.0 L986.1 668.2 L987.0 664.4 L985.1 661.6 L988.0 657.8 L995.5 654.0 L1005.0 651.1 L1013.5 648.3 L1021.1 642.6 L1029.6 640.7 L1033.4 637.9 L1036.3 634.1 L1042.0 631.3 L1050.5 629.4 L1058.1 625.6 L1063.7 622.7 L1069.4 623.3 L1077.0 626.5 L1084.6 631.3 L1090.3 634.1 L1092.2 636.9 L1097.8 639.2 L1102.6 641.7 L1103.1 645.5 L1099.7 649.3 L1096.9 652.7 L1103.5 654.9 L1111.1 657.8 L1116.8 660.6 L1120.0 663.5 M880.0 682.4 L886.6 679.0 L893.3 676.3 M880.0 710.4 L886.6 711.8 L892.3 717.4 L898.9 725.0 L905.6 732.6 L908.8 736.4 L904.6 740.2 L903.1 748.7 L900.8 755.3 L897.4 758.2 L898.6 765.8 L897.0 771.4 L892.3 777.1 L885.7 780.3 L880.0 782.4 M316.3 907.6 L327.6 907.8 L335.2 904.0 L340.9 901.9 L346.6 903.1 L350.4 908.2 L353.2 914.8 L355.1 921.5 L358.5 924.7 L365.5 920.5 L370.3 914.8 L374.0 909.1 L379.7 904.4 L385.4 903.1 L392.0 904.0 L400.0 906.3 M463.5 858.0 L460.6 861.8 L453.0 862.7 L443.6 862.2 L434.1 862.7 L425.6 864.6 L420.8 869.4 L417.0 876.0 L412.3 881.7 L405.7 883.6 L401.9 886.4 L400.9 892.1 L401.9 901.6 L403.8 910.1 L406.6 914.8 L413.3 917.7 L420.8 919.0 L429.4 917.7 L432.2 921.5 L437.9 926.2 L443.9 930.0 M400.0 906.3 L402.3 905.4 M490.0 1020.5 L493.8 1019.4 L494.3 1025.6 L496.6 1031.3 L502.3 1033.2 L509.9 1034.2 L517.4 1035.1 L520.7 1037.0 L519.3 1043.6 L517.4 1048.4 L511.8 1053.1 L504.2 1056.9 L496.6 1061.6 L489.0 1066.4 L484.3 1072.0 L485.2 1078.7 L488.1 1085.3 L496.6 1088.1 L506.1 1091.9 L515.2 1093.8 L517.8 1088.1 L523.1 1091.0 L532.6 1093.8 L541.1 1091.0 L547.8 1088.7 L552.5 1091.0 L557.2 1094.8 L561.0 1098.0 M509.9 1033.2 L517.4 1028.1 L525.0 1025.6 L532.6 1023.2 L540.2 1019.0 L547.8 1017.1 L551.5 1013.3 L559.1 1014.8 L565.7 1013.3 L569.5 1011.1 L574.3 1014.3 L580.0 1018.1 L587.5 1020.9 L592.3 1025.6 L597.0 1027.5 L602.7 1032.3 L607.4 1029.4 L608.4 1024.7 L603.6 1021.3 L598.9 1016.2 L598.5 1009.5 L593.2 1006.7 L585.6 1003.9 L578.1 1000.1 L580.0 995.3 L582.2 989.6 L582.8 984.0 L586.6 981.5 L591.7 978.3 M591.7 978.3 L584.7 977.0 L579.0 974.5 L576.2 968.8 L571.4 962.2 L567.6 957.4 L561.0 954.2 L559.5 950.8 L562.9 945.1 L567.6 940.4 L576.2 935.7 L584.7 930.9 L593.2 925.2 L600.8 919.6 L605.5 913.9 L610.3 910.1 L615.9 909.5 L621.6 906.3 L627.3 900.6 L632.0 894.9 L634.9 890.2 L640.0 888.3 M591.7 978.3 L598.9 974.5 L605.5 972.6 L612.2 972.0 L615.0 973.9 L614.4 980.2 L616.3 983.4 L619.7 978.3 L624.5 977.0 L630.1 979.2 L634.9 984.9 L635.8 990.6 L640.0 992.1 M640.0 855.7 L639.1 858.8 L638.1 861.8 L636.8 865.6 L640.2 868.2 M783.0 858.0 L788.7 862.7 L797.2 865.2 L802.9 866.5 L804.8 871.3 L803.3 877.9 L801.0 884.5 L800.6 891.1 L802.9 896.8 L807.6 901.6 L813.3 907.3 L819.0 912.9 L830.4 914.3 L837.0 908.2 L843.6 901.6 L838.9 897.8 L839.3 893.0 L845.5 889.3 L853.1 886.8 L861.6 886.4 L861.6 894.0 L862.0 901.6 L866.4 903.5 L870.1 901.2 L872.0 894.0 L873.9 886.4 L874.9 880.7 L870.1 878.8 L864.5 877.9 L867.3 873.2 L874.9 875.4 L880.0 876.9 M819.0 913.3 L816.2 917.7 L816.5 923.4 L820.0 929.0 L826.6 932.8 L835.1 935.7 L840.4 938.5 L842.3 943.2 L839.8 948.9 L842.7 952.7 L849.3 954.6 L857.8 951.8 L864.5 950.8 L872.0 952.7 L877.7 955.6 L880.0 957.4 M640.0 992.1 L645.7 990.6 L651.4 986.8 L658.0 985.3 L662.7 989.6 L668.4 996.3 L674.1 1001.0 L679.8 1002.9 L689.3 1002.9 L697.8 1000.1 L704.4 994.4 L710.1 996.3 L715.8 995.7 L721.5 997.2 L726.2 998.2 L730.9 993.4 L737.6 989.6 L745.1 987.8 L749.9 984.9 L748.4 980.2 L752.7 977.7 L754.6 980.2 L761.2 982.1 L766.9 985.9 L769.8 990.6 L771.6 997.2 L776.4 1002.0 L779.8 1008.6 L781.1 1014.3 L784.9 1020.9 L790.6 1025.1 L797.2 1026.0 L802.9 1022.8 L809.5 1018.1 L817.1 1015.8 L824.7 1016.7 L828.5 1020.0 L827.5 1025.6 L823.7 1030.4 L823.4 1034.2 M640.0 868.0 L646.3 872.2 L651.0 875.4 L652.5 878.5 L650.0 881.7 L646.3 884.9 L640.6 887.7 M880.0 981.1 L876.8 988.7 L871.1 996.3 L864.5 1001.0 L867.3 1006.7 L866.4 1012.4 L859.7 1017.1 L852.2 1020.0 L843.6 1021.9 L837.0 1027.5 L829.4 1031.3 L823.4 1034.5 L817.1 1038.9 L812.4 1044.6 L809.9 1053.1 L809.2 1060.7 L811.4 1067.3 L814.6 1070.2 L811.4 1075.8 L806.7 1081.5 L802.5 1087.2 L800.1 1093.8 L798.2 1098.0 M880.0 876.9 L891.4 881.1 L906.5 886.4 L917.9 884.9 L924.5 885.5 L928.3 889.3 L932.1 895.9 L936.8 899.3 L939.1 905.4 L936.8 911.0 L932.1 915.8 L927.0 920.5 L930.2 926.2 L934.9 932.8 L945.4 934.1 L956.7 935.7 L961.5 930.4 L970.9 932.4 L980.0 934.7 L981.3 938.5 L983.2 941.0 L988.0 941.3 L992.7 936.2 L1005.0 937.2 L1018.3 938.5 L1030.6 939.5 L1043.3 934.1 L1043.9 941.3 L1044.4 948.9 L1046.7 952.7 L1050.5 954.6 L1060.0 955.0 L1063.7 956.5 L1070.4 963.5 L1078.9 963.7 L1086.1 971.1 L1092.2 964.1 L1098.8 957.4 L1107.3 952.1 L1114.9 947.4 L1116.4 961.2 L1120.0 962.8 M880.0 958.4 L882.8 961.8 L884.2 967.9 L882.8 969.8 L886.6 973.5 L885.7 977.3 L880.0 983.0 M447.4 1260.9 L451.1 1263.7 L455.9 1262.8 L460.6 1261.9 L465.4 1264.7 L470.1 1269.4 L474.8 1275.1 L476.7 1277.0 L479.6 1273.2 L485.2 1275.1 L491.9 1277.6 L497.0 1276.1 L498.5 1270.4 L501.3 1264.7 L506.1 1260.0 L509.9 1255.2 L515.5 1253.3 L525.0 1251.4 L535.4 1249.9 L545.9 1251.1 L554.4 1252.4 L561.0 1255.2 L563.9 1249.5 L566.7 1242.9 L569.0 1234.4 L569.5 1226.8 L568.6 1220.2 L565.7 1215.4 L561.0 1213.2 L555.3 1212.2 L549.6 1208.8 L544.9 1205.0 L543.0 1200.3 L544.9 1194.6 L546.8 1191.8 L552.5 1191.2 L555.3 1188.0 L556.3 1184.2 L561.0 1182.3 L567.6 1184.2 L569.5 1179.5 L571.4 1175.7 L578.1 1175.3 L582.8 1174.7 L584.7 1170.9 L591.3 1169.0 L598.9 1167.1 L608.4 1164.7 L608.9 1158.6 L607.4 1152.0 L604.6 1145.4 L601.2 1140.1 M560.1 1098.0 L562.0 1102.7 L563.9 1107.5 L563.3 1111.3 L567.6 1113.2 L570.5 1116.0 L569.5 1121.7 L566.3 1126.4 L565.7 1128.3 L572.4 1131.1 L580.0 1134.0 L587.5 1135.3 L595.1 1137.8 L601.2 1140.1 M601.2 1140.1 L608.4 1139.7 L617.8 1140.1 L624.5 1139.3 L629.2 1140.6 L633.9 1143.5 L640.0 1145.0 M640.0 1144.4 L645.7 1143.1 L653.3 1145.0 L661.8 1151.0 L671.3 1154.8 L681.7 1158.2 L694.0 1159.6 L704.4 1163.4 L715.8 1168.5 L725.2 1168.7 L735.7 1169.0 L746.1 1170.9 L757.4 1170.9 L761.2 1165.2 L766.9 1160.5 L774.5 1156.7 L781.1 1152.0 L783.0 1146.9 L791.5 1144.4 L801.0 1141.2 L811.4 1138.7 L814.3 1143.5 L818.1 1151.0 L824.7 1155.8 L831.3 1158.6 L835.1 1166.2 L838.9 1172.8 L845.5 1175.7 L850.3 1174.7 M797.2 1098.0 L799.1 1103.7 L797.2 1107.5 L793.4 1111.3 L800.1 1115.0 L808.6 1123.6 L817.1 1132.1 L825.6 1141.6 L832.3 1148.2 L838.9 1152.9 L843.6 1162.4 L848.4 1171.9 L853.1 1175.7 L859.7 1176.2 L867.3 1174.7 L873.9 1170.9 L880.0 1170.0 M880.0 1198.4 L876.8 1208.8 L872.0 1212.6 L865.4 1211.7 L857.8 1209.8 L850.3 1208.8 L846.5 1213.5 L842.7 1218.3 L835.1 1220.2 L827.5 1220.2 L820.0 1221.5 L814.3 1223.0 L815.2 1230.6 L811.4 1240.1 L807.6 1249.5 L803.9 1257.1 L799.1 1263.7 L791.5 1268.5 L784.0 1273.2 L778.3 1277.0 L773.5 1282.7 L770.3 1289.3 L768.8 1296.9 L766.5 1304.5 L761.2 1310.2 L755.5 1313.9 L755.9 1318.7 L752.7 1323.4 L755.5 1330.0 L754.6 1332.9 M754.6 1332.9 L744.2 1333.5 L736.6 1335.7 L732.8 1338.0 M754.6 1332.9 L761.2 1337.1 L764.1 1338.0 M880.0 1169.6 L887.6 1169.0 L892.3 1170.0 L890.4 1177.6 L886.6 1187.0 L882.8 1193.7 L880.0 1197.4 M892.3 1170.0 L896.1 1168.1 L904.6 1170.5 L916.0 1173.4 L927.4 1176.0 L929.6 1179.8 L926.4 1185.1 L923.9 1190.4 L928.3 1192.7 L937.8 1195.6 L950.1 1196.1 L959.6 1195.0 L968.1 1196.1 L973.8 1199.3 L978.5 1204.1 L980.4 1208.8 L982.3 1212.2 L991.8 1213.2 L1001.2 1214.5 L1006.0 1211.3 L1011.6 1206.0 L1016.4 1204.5 L1022.1 1206.0 L1028.7 1209.8 L1032.5 1213.5 L1033.8 1218.3 L1044.8 1222.1 L1058.1 1226.8 L1071.3 1230.6 L1076.1 1232.5 M1076.1 1232.5 L1082.7 1227.8 L1092.2 1224.0 L1103.5 1222.1 L1120.0 1220.2 M1076.1 1232.5 L1078.9 1239.1 L1089.3 1239.7 L1087.4 1247.6 L1084.6 1254.3 L1087.4 1260.0 L1090.3 1265.3 L1084.6 1267.5 L1077.0 1265.6 L1070.4 1266.6 L1067.9 1271.3 L1068.1 1278.0 L1066.6 1282.7 L1061.8 1283.3 L1059.0 1280.8 L1058.1 1276.1 L1053.3 1274.5 L1044.8 1275.1 L1033.4 1278.0 L1020.2 1280.8 L1008.8 1283.6 L1004.1 1288.4 L999.3 1295.0 L992.7 1299.7 L992.1 1305.4 L997.4 1308.3 L1005.0 1308.6 L1013.5 1308.3 L1020.2 1311.1 L1024.9 1313.0 L1023.6 1319.6 L1028.7 1325.3 L1031.5 1331.0 L1033.8 1338.0 M446.0 1351.3 L452.1 1353.5 L458.7 1356.6 L465.4 1361.7 L472.0 1362.6 L479.6 1363.6 L486.8 1366.4 L490.9 1362.6 L496.6 1361.7 L503.2 1361.1 L509.9 1363.6 L517.4 1366.4 L526.0 1367.7 L535.4 1365.5 L539.2 1359.8 L545.9 1356.9 L555.3 1355.4 L564.8 1354.1 L571.4 1355.4 L573.9 1358.8 L575.2 1363.6 L581.8 1367.4 L589.4 1372.1 L598.9 1377.2 L606.5 1378.7 L615.9 1379.3 L623.5 1378.7 L631.1 1374.9 L640.0 1371.7 M644.2 1361.3 L649.5 1360.7 L658.9 1360.4 L664.6 1357.9 L667.5 1354.7 L674.1 1352.2 L683.6 1348.4 L693.0 1344.1 L704.4 1340.3 L710.1 1338.4 L719.6 1338.9 L727.1 1339.9 L732.8 1338.9 L734.7 1338.0 M640.0 1371.7 L642.7 1370.3 L641.8 1368.4 L639.4 1367.0 L638.4 1366.0 L639.4 1364.1 L641.3 1362.2 L644.2 1361.3 M764.1 1338.0 L767.9 1342.7 L769.2 1349.4 L768.8 1356.9 L771.6 1362.6 L773.5 1370.2 L774.1 1379.7 L775.4 1387.3 L776.4 1393.9 L775.4 1398.6 L776.8 1404.3 L779.2 1410.9 L782.1 1415.7 L783.0 1418.5 M1034.4 1338.0 L1039.1 1344.6 L1042.9 1351.3 L1044.4 1356.0 L1040.1 1358.5 L1033.8 1359.8 L1032.5 1362.6 L1034.4 1367.4 L1033.4 1372.1 L1029.6 1375.9 L1028.7 1378.7 L1031.5 1382.5 L1036.3 1385.4 L1038.2 1390.1 L1036.3 1395.8 L1034.9 1402.4 L1035.7 1410.0 L1036.8 1417.6 L1034.9 1424.2 L1034.4 1431.8 L1030.6 1437.4 L1028.1 1443.1 L1028.7 1449.8 L1031.5 1456.4 L1033.1 1458.1 M1033.1 1458.0 L1035.0 1461.8 L1032.7 1467.5 L1030.3 1471.3 L1028.4 1474.1 L1032.2 1477.4 L1036.0 1480.3 L1037.9 1481.2 L1040.7 1478.8 L1045.5 1476.9 L1051.1 1475.5 L1053.0 1476.9 L1055.9 1478.4 L1060.6 1478.4 L1065.4 1477.4 L1070.1 1475.5 L1073.4 1474.3 L1071.0 1476.9 L1068.2 1480.3 L1066.3 1481.5"/>
</g>
<g fill="none" stroke="#76808c" stroke-width="1.2" stroke-linejoin="round">
<path d="M1120.0 556.4 L1095.9 566.5 L1075.1 579.7 L1057.7 593.9 L1071.3 610.0 L1094.0 611.9 L1113.0 618.0 L1112.0 618.0 L1104.5 635.0 L1095.9 646.4 L1078.9 656.8 L1050.5 672.9 L1025.9 684.7 L1010.7 689.6 L999.3 696.6 L976.6 704.2 L952.0 708.4 L927.4 715.6 L902.7 727.5 L880.0 732.6 L880.0 733.2 L860.7 737.7 L848.4 751.5 L837.9 762.9 L832.3 775.2 L828.5 785.6 L817.1 791.3 L806.7 798.0 L798.2 810.3 L802.9 816.9 L807.6 824.5 L820.0 833.9 L812.4 846.3 L805.7 858.0 L805.2 858.0 L801.0 871.3 L794.4 890.2 L786.8 906.3 L778.3 918.6 L770.7 929.0 L759.3 938.5 L746.1 944.2 L734.7 948.9 L729.0 955.6 L726.2 967.9 L723.3 978.3 L725.2 990.6 L728.1 1003.9 L734.7 1022.8 L748.0 1036.1 L761.2 1049.3 L764.1 1072.0 L770.7 1085.3 L777.3 1098.0 L778.3 1098.0 L789.6 1121.7 L791.5 1144.4 L797.2 1170.0 L793.4 1194.6 L784.0 1203.1 L757.4 1218.3 L744.8 1242.3 L757.4 1265.6 L780.2 1275.1 L806.7 1279.8 L831.3 1279.8 L857.8 1277.4 L880.0 1276.6 L880.0 1277.0 L902.7 1282.7 L925.5 1298.8 L941.6 1313.9 L943.5 1338.0 L943.5 1338.0 L927.4 1348.4 L902.7 1356.0 L880.0 1360.4 L880.0 1360.7 L868.3 1362.2 L855.9 1368.3 L838.9 1385.4 L832.3 1389.5 L806.7 1396.7 L784.0 1401.5 L761.2 1405.8 L738.5 1410.4 L712.0 1414.3 L687.4 1413.8 L662.7 1399.6 L640.0 1394.4 L640.0 1394.4 L615.9 1400.1 L591.3 1391.6 L566.7 1383.5 L544.0 1380.1 L519.7 1386.3 L524.1 1374.0 L527.3 1362.2 L521.2 1349.4 L514.6 1338.0 L514.6 1338.0 L495.7 1316.4 L472.0 1317.7 L447.4 1327.2 L427.5 1338.0 L428.4 1338.0 L400.0 1349.7 L400.0 1350.3 L380.7 1338.0 L380.7 1338.0 L375.0 1333.8 L364.6 1322.5 L353.2 1309.2 L340.0 1298.8 L326.7 1288.9 L311.5 1287.0"/>
<path d="M305.9 1301.1 L311.2 1313.9 L312.5 1338.0 L312.5 1338.0 L304.0 1342.2 L286.0 1361.7 L279.7 1377.4 L255.7 1380.2 L231.0 1358.8 L214.9 1338.0 L214.9 1338.0 L207.4 1326.3 L199.8 1313.0 L193.1 1289.3 L183.7 1269.4 L160.0 1273.2"/>
<path d="M160.0 1426.1 L185.6 1434.0 L210.2 1458.3 L200.7 1482.3 L183.7 1489.9 L160.0 1487.3"/>
</g>
<text x="0" y="6.1" transform="translate(302.6 1286.2) rotate(-33) scale(1.15 1)" font-size="17" style="fill:#708090" text-anchor="middle">15</text>
<g stroke="#b0b0b0" stroke-width="1.5">
<line x1="400" y1="138" x2="400" y2="1578"/>
<line x1="640" y1="138" x2="640" y2="1578"/>
<line x1="880" y1="138" x2="880" y2="1578"/>
<line x1="160" y1="498" x2="1120" y2="498"/>
<line x1="160" y1="858" x2="1120" y2="858"/>
<line x1="160" y1="1218" x2="1120" y2="1218"/>
</g>
</g>
<rect x="160" y="138" width="960" height="1440" fill="none" stroke="#000" stroke-width="1.7"/>
<g stroke="#000" stroke-width="1.5">
<line x1="160" y1="1578" x2="160" y2="1584.6"/>
<line x1="400" y1="1578" x2="400" y2="1584.6"/>
<line x1="640" y1="1578" x2="640" y2="1584.6"/>
<line x1="880" y1="1578" x2="880" y2="1584.6"/>
<line x1="1120" y1="1578" x2="1120" y2="1584.6"/>
<line x1="153.4" y1="138" x2="160" y2="138"/>
<line x1="153.4" y1="498" x2="160" y2="498"/>
<line x1="153.4" y1="858" x2="160" y2="858"/>
<line x1="153.4" y1="1218" x2="160" y2="1218"/>
<line x1="153.4" y1="1578" x2="160" y2="1578"/>
</g>
<rect x="1122" y="1525.20" width="36" height="52.80" fill="#000080"/>
<rect x="1122" y="1472.20" width="36" height="53.30" fill="#000096"/>
<rect x="1122" y="1418.20" width="36" height="54.30" fill="#0000c4"/>
<rect x="1122" y="1365.20" width="36" height="53.30" fill="#0000f1"/>
<rect x="1122" y="1312.20" width="36" height="53.30" fill="#000cff"/>
<rect x="1122" y="1258.20" width="36" height="54.30" fill="#0038ff"/>
<rect x="1122" y="1205.20" width="36" height="53.30" fill="#0060ff"/>
<rect x="1122" y="1152.20" width="36" height="53.30" fill="#0088ff"/>
<rect x="1122" y="1098.20" width="36" height="54.30" fill="#00b0ff"/>
<rect x="1122" y="1045.20" width="36" height="53.30" fill="#00dcfe"/>
<rect x="1122" y="992.20" width="36" height="53.30" fill="#19ffde"/>
<rect x="1122" y="938.20" width="36" height="54.30" fill="#39ffbe"/>
<rect x="1122" y="885.20" width="36" height="53.30" fill="#5aff9d"/>
<rect x="1122" y="832.20" width="36" height="53.30" fill="#7dff7a"/>
<rect x="1122" y="778.20" width="36" height="54.30" fill="#9dff5a"/>
<rect x="1122" y="725.20" width="36" height="53.30" fill="#beff39"/>
<rect x="1122" y="672.20" width="36" height="53.30" fill="#deff19"/>
<rect x="1122" y="618.20" width="36" height="54.30" fill="#feed00"/>
<rect x="1122" y="565.20" width="36" height="53.30" fill="#ffc400"/>
<rect x="1122" y="512.20" width="36" height="53.30" fill="#ff9f00"/>
<rect x="1122" y="458.20" width="36" height="54.30" fill="#ff7a00"/>
<rect x="1122" y="405.20" width="36" height="53.30" fill="#ff5500"/>
<rect x="1122" y="352.20" width="36" height="53.30" fill="#ff2d00"/>
<rect x="1122" y="298.20" width="36" height="54.30" fill="#f10800"/>
<rect x="1122" y="245.20" width="36" height="53.30" fill="#c40000"/>
<rect x="1122" y="192.20" width="36" height="53.30" fill="#960000"/>
<rect x="1122" y="138.00" width="36" height="54.50" fill="#800000"/>
<g stroke="#000" stroke-width="1.0">
<line x1="1122" y1="1525.50" x2="1158" y2="1525.50"/>
<line x1="1122" y1="1472.50" x2="1158" y2="1472.50"/>
<line x1="1122" y1="1418.50" x2="1158" y2="1418.50"/>
<line x1="1122" y1="1365.50" x2="1158" y2="1365.50"/>
<line x1="1122" y1="1312.50" x2="1158" y2="1312.50"/>
<line x1="1122" y1="1258.50" x2="1158" y2="1258.50"/>
<line x1="1122" y1="1205.50" x2="1158" y2="1205.50"/>
<line x1="1122" y1="1152.50" x2="1158" y2="1152.50"/>
<line x1="1122" y1="1098.50" x2="1158" y2="1098.50"/>
<line x1="1122" y1="1045.50" x2="1158" y2="1045.50"/>
<line x1="1122" y1="992.50" x2="1158" y2="992.50"/>
<line x1="1122" y1="938.50" x2="1158" y2="938.50"/>
<line x1="1122" y1="885.50" x2="1158" y2="885.50"/>
<line x1="1122" y1="832.50" x2="1158" y2="832.50"/>
<line x1="1122" y1="778.50" x2="1158" y2="778.50"/>
<line x1="1122" y1="725.50" x2="1158" y2="725.50"/>
<line x1="1122" y1="672.50" x2="1158" y2="672.50"/>
<line x1="1122" y1="618.50" x2="1158" y2="618.50"/>
<line x1="1122" y1="565.50" x2="1158" y2="565.50"/>
<line x1="1122" y1="512.50" x2="1158" y2="512.50"/>
<line x1="1122" y1="458.50" x2="1158" y2="458.50"/>
<line x1="1122" y1="405.50" x2="1158" y2="405.50"/>
<line x1="1122" y1="352.50" x2="1158" y2="352.50"/>
<line x1="1122" y1="298.50" x2="1158" y2="298.50"/>
<line x1="1122" y1="245.50" x2="1158" y2="245.50"/>
<line x1="1122" y1="192.50" x2="1158" y2="192.50"/>
</g><g stroke="#000" stroke-width="1.6">
<line x1="1158" y1="1525.05" x2="1164.9" y2="1525.05"/>
<line x1="1158" y1="1472.05" x2="1164.9" y2="1472.05"/>
<line x1="1158" y1="1418.05" x2="1164.9" y2="1418.05"/>
<line x1="1158" y1="1365.05" x2="1164.9" y2="1365.05"/>
<line x1="1158" y1="1312.05" x2="1164.9" y2="1312.05"/>
<line x1="1158" y1="1258.05" x2="1164.9" y2="1258.05"/>
<line x1="1158" y1="1205.05" x2="1164.9" y2="1205.05"/>
<line x1="1158" y1="1152.05" x2="1164.9" y2="1152.05"/>
<line x1="1158" y1="1098.05" x2="1164.9" y2="1098.05"/>
<line x1="1158" y1="1045.05" x2="1164.9" y2="1045.05"/>
<line x1="1158" y1="992.05" x2="1164.9" y2="992.05"/>
<line x1="1158" y1="938.05" x2="1164.9" y2="938.05"/>
<line x1="1158" y1="885.05" x2="1164.9" y2="885.05"/>
<line x1="1158" y1="832.05" x2="1164.9" y2="832.05"/>
<line x1="1158" y1="778.05" x2="1164.9" y2="778.05"/>
<line x1="1158" y1="725.05" x2="1164.9" y2="725.05"/>
<line x1="1158" y1="672.05" x2="1164.9" y2="672.05"/>
<line x1="1158" y1="618.05" x2="1164.9" y2="618.05"/>
<line x1="1158" y1="565.05" x2="1164.9" y2="565.05"/>
<line x1="1158" y1="512.05" x2="1164.9" y2="512.05"/>
<line x1="1158" y1="458.05" x2="1164.9" y2="458.05"/>
<line x1="1158" y1="405.05" x2="1164.9" y2="405.05"/>
<line x1="1158" y1="352.05" x2="1164.9" y2="352.05"/>
<line x1="1158" y1="298.05" x2="1164.9" y2="298.05"/>
<line x1="1158" y1="245.05" x2="1164.9" y2="245.05"/>
<line x1="1158" y1="192.05" x2="1164.9" y2="192.05"/>
</g>
<text transform="translate(15.84 152.30) scale(1.0593 1.0000)" font-size="40.00" text-anchor="start" xml:space="preserve">42.5°N</text>
<text transform="translate(51.85 512.30) scale(1.0471 1.0000)" font-size="40.00" text-anchor="start" xml:space="preserve">41°N</text>
<text transform="translate(15.78 872.30) scale(1.0598 1.0000)" font-size="40.00" text-anchor="start" xml:space="preserve">39.5°N</text>
<text transform="translate(51.80 1232.30) scale(1.0476 1.0000)" font-size="40.00" text-anchor="start" xml:space="preserve">38°N</text>
<text transform="translate(15.78 1592.30) scale(1.0598 1.0000)" font-size="40.00" text-anchor="start" xml:space="preserve">36.5°N</text>
<text transform="translate(107.71 1621.20) scale(1.0316 1.0000)" font-size="40.00" text-anchor="start" xml:space="preserve">10°W</text>
<text transform="translate(359.22 1621.20) scale(1.0405 1.0000)" font-size="40.00" text-anchor="start" xml:space="preserve">9°W</text>
<text transform="translate(599.75 1621.20) scale(1.0270 1.0000)" font-size="40.00" text-anchor="start" xml:space="preserve">8°W</text>
<text transform="translate(839.75 1621.20) scale(1.0270 1.0000)" font-size="40.00" text-anchor="start" xml:space="preserve">7°W</text>
<text transform="translate(1079.75 1621.20) scale(1.0270 1.0000)" font-size="40.00" text-anchor="start" xml:space="preserve">6°W</text>
<text transform="translate(1174.00 1539.07) scale(1.0488 1.0000)" font-size="40.00" xml:space="preserve"><tspan dy="1.80" textLength="26.73" lengthAdjust="spacingAndGlyphs">−</tspan><tspan x="29.29" dy="-1.80">20</tspan></text>
<text transform="translate(1174.00 1485.73) scale(1.0500 1.0000)" font-size="40.00" xml:space="preserve"><tspan dy="1.80" textLength="26.70" lengthAdjust="spacingAndGlyphs">−</tspan><tspan x="29.21" dy="-1.80">18</tspan></text>
<text transform="translate(1174.00 1432.40) scale(1.0500 1.0000)" font-size="40.00" xml:space="preserve"><tspan dy="1.80" textLength="26.70" lengthAdjust="spacingAndGlyphs">−</tspan><tspan x="29.21" dy="-1.80">16</tspan></text>
<text transform="translate(1174.00 1379.07) scale(1.0500 1.0000)" font-size="40.00" xml:space="preserve"><tspan dy="1.80" textLength="26.70" lengthAdjust="spacingAndGlyphs">−</tspan><tspan x="29.21" dy="-1.80">14</tspan></text>
<text transform="translate(1174.00 1325.73) scale(1.0000 1.0000)" font-size="40.00" xml:space="preserve"><tspan dy="1.80" textLength="28.03" lengthAdjust="spacingAndGlyphs">−</tspan><tspan x="30.82" dy="-1.80">12</tspan></text>
<text transform="translate(1174.00 1272.40) scale(1.0500 1.0000)" font-size="40.00" xml:space="preserve"><tspan dy="1.80" textLength="26.70" lengthAdjust="spacingAndGlyphs">−</tspan><tspan x="29.21" dy="-1.80">10</tspan></text>
<text transform="translate(1174.00 1219.07) scale(1.0000 1.0000)" font-size="40.00" xml:space="preserve"><tspan dy="1.80" textLength="28.03" lengthAdjust="spacingAndGlyphs">−</tspan><tspan x="30.82" dy="-1.80">8</tspan></text>
<text transform="translate(1174.00 1165.73) scale(1.0000 1.0000)" font-size="40.00" xml:space="preserve"><tspan dy="1.80" textLength="28.03" lengthAdjust="spacingAndGlyphs">−</tspan><tspan x="30.82" dy="-1.80">6</tspan></text>
<text transform="translate(1174.00 1112.40) scale(1.0000 1.0000)" font-size="40.00" xml:space="preserve"><tspan dy="1.80" textLength="28.03" lengthAdjust="spacingAndGlyphs">−</tspan><tspan x="30.82" dy="-1.80">4</tspan></text>
<text transform="translate(1174.00 1059.07) scale(0.9444 1.0000)" font-size="40.00" xml:space="preserve"><tspan dy="1.80" textLength="29.68" lengthAdjust="spacingAndGlyphs">−</tspan><tspan x="32.75" dy="-1.80">2</tspan></text>
<text transform="translate(1173.09 1005.73) scale(1.0526 1.0000)" font-size="40.00" text-anchor="start" xml:space="preserve">0</text>
<text transform="translate(1174.31 952.40) scale(0.9444 1.0000)" font-size="40.00" text-anchor="start" xml:space="preserve">2</text>
<text transform="translate(1174.20 899.07) scale(1.0000 1.0000)" font-size="40.00" text-anchor="start" xml:space="preserve">4</text>
<text transform="translate(1174.20 845.73) scale(1.0000 1.0000)" font-size="40.00" text-anchor="start" xml:space="preserve">6</text>
<text transform="translate(1174.20 792.40) scale(1.0000 1.0000)" font-size="40.00" text-anchor="start" xml:space="preserve">8</text>
<text transform="translate(1174.05 739.07) scale(1.0500 1.0000)" font-size="40.00" text-anchor="start" xml:space="preserve">10</text>
<text transform="translate(1174.20 685.73) scale(1.0000 1.0000)" font-size="40.00" text-anchor="start" xml:space="preserve">12</text>
<text transform="translate(1174.05 632.40) scale(1.0500 1.0000)" font-size="40.00" text-anchor="start" xml:space="preserve">14</text>
<text transform="translate(1174.05 579.07) scale(1.0500 1.0000)" font-size="40.00" text-anchor="start" xml:space="preserve">16</text>
<text transform="translate(1174.05 525.73) scale(1.0500 1.0000)" font-size="40.00" text-anchor="start" xml:space="preserve">18</text>
<text transform="translate(1174.10 472.40) scale(1.0488 1.0000)" font-size="40.00" text-anchor="start" xml:space="preserve">20</text>
<text transform="translate(1174.20 419.07) scale(1.0000 1.0000)" font-size="40.00" text-anchor="start" xml:space="preserve">22</text>
<text transform="translate(1174.10 365.73) scale(1.0488 1.0000)" font-size="40.00" text-anchor="start" xml:space="preserve">24</text>
<text transform="translate(1174.10 312.40) scale(1.0488 1.0000)" font-size="40.00" text-anchor="start" xml:space="preserve">26</text>
<text transform="translate(1174.10 259.07) scale(1.0488 1.0000)" font-size="40.00" text-anchor="start" xml:space="preserve">28</text>
<text transform="translate(1174.10 205.73) scale(1.0488 1.0000)" font-size="40.00" text-anchor="start" xml:space="preserve">30</text>
<text class="t" transform="translate(640.00 43.20) scale(1.0000 1.0500)" font-size="37.62" text-anchor="middle" xml:space="preserve">Temperature (ºC) 850hPa</text>
<text class="t" transform="translate(640.00 85.30) scale(1.0000 1.0500)" font-size="37.62" text-anchor="middle" xml:space="preserve">ARPEGE 0.1º Forecast: Saturday 2026-04-18 T 06Z</text>
<text class="t" transform="translate(640.00 127.20) scale(1.0000 1.0500)" font-size="37.62" text-anchor="middle" xml:space="preserve">Run 2026-04-14 T 12Z +90 hour</text>
</svg></body></html>
